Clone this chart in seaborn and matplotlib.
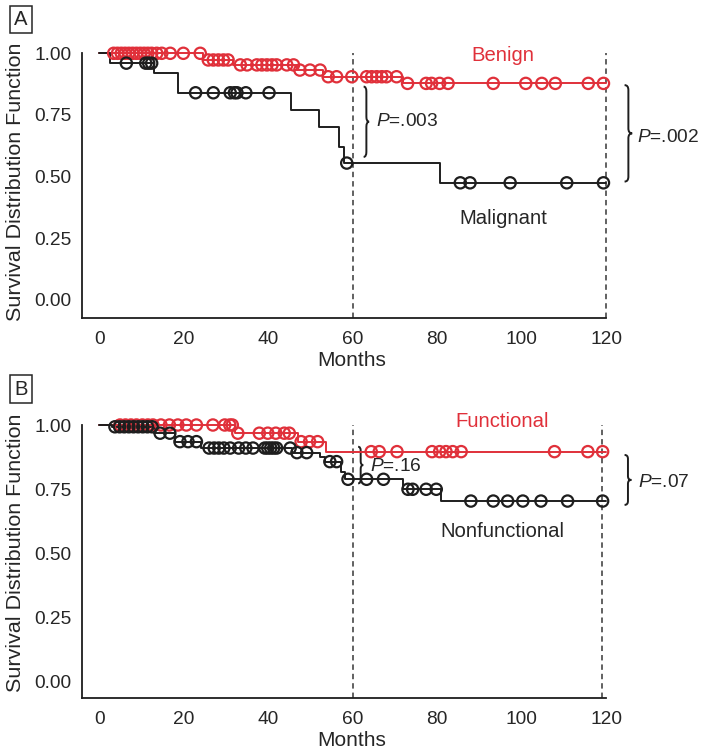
import numpy as np
import pandas as pd
import matplotlib
matplotlib.use("Agg")
import matplotlib.pyplot as plt
import seaborn as sns
from matplotlib.path import Path
from matplotlib.patches import PathPatch
from matplotlib import font_manager as fm

sns.set_theme(style="white")
_names = {f.name for f in fm.fontManager.ttflist}
NARROW = "Liberation Sans Narrow" in _names
FAM = "Liberation Sans Narrow" if NARROW else "Liberation Sans"
SC = 1.0 if NARROW else 0.86  # shrink sizes if only regular width is available
plt.rcParams["font.family"] = [FAM, "DejaVu Sans"]
plt.rcParams["mathtext.fontset"] = "custom"
plt.rcParams["mathtext.rm"] = FAM
plt.rcParams["mathtext.it"] = FAM + ":italic"

# ---------------- data ----------------
month_ticks = [0, 20, 40, 60, 80, 100, 120]
surv_ticks = [0.00, 0.25, 0.50, 0.75, 1.00]
surv_labels = ["0.00", "0.25", "0.50", "0.75", "1.00"]

# Panel A - Malignant (event times / survival after step / censored times)
mal_t = [0, 2.5, 13, 18.7, 45.3, 52, 56.7, 58, 80.8]
mal_s = [1.0, 0.96, 0.92, 0.84, 0.77, 0.70, 0.62, 0.555, 0.475]
mal_c = [6.4, 11.0, 11.7, 12.4, 22.8, 27, 31, 32, 32.6, 34.7, 40.2, 58.6,
         85.5, 87.8, 97.3, 110.7, 119.4]

# Panel A - Benign
ben_t = [0, 24.5, 31.7, 46.8, 53, 71.9]
ben_s = [1.0, 0.973, 0.953, 0.932, 0.905, 0.878]
ben_c = [3.4, 4.3, 5.2, 6.1, 7.0, 7.9, 8.8, 9.7, 10.6, 11.5, 12.4, 13.6,
         14.8, 16.8, 19.9, 23.9,
         25.8, 27.0, 28.2, 29.4, 30.5,
         33.4, 35.0, 37.3, 38.5, 39.7, 40.9, 42.0, 44.4, 46.0,
         47.5, 49.9, 52.3,
         54.2, 56.2, 59.8, 63.3, 64.5, 65.7, 66.9, 68.0, 70.4,
         73.0, 77.4, 78.7, 80.6, 82.6, 93.3, 101.0, 104.8, 108.0, 115.8, 119.4]

# Panel B - Functional
fun_t = [0, 32.2, 47, 53.8]
fun_s = [1.0, 0.968, 0.935, 0.896]
fun_c = [4.9, 6.2, 7.5, 8.8, 10.2, 11.5, 12.7, 14.6, 16.6, 18.6, 20.6, 23.0,
         26.9, 29.7, 30.9, 31.5,
         32.8, 37.9, 39.9, 41.8, 43.8, 45.0,
         47.8, 49.8, 51.7,
         64.4, 66.3, 70.5, 78.8, 80.6, 82.1, 83.7, 85.7, 107.8, 115.7, 119.2]

# Panel B - Nonfunctional
non_t = [0, 2.9, 13, 17.9, 24.2, 45.6, 52.2, 53.4, 57.3, 58.2, 71.9, 80.9]
non_s = [1.0, 0.993, 0.968, 0.935, 0.91, 0.892, 0.876, 0.857, 0.818, 0.788,
         0.749, 0.703]
non_c = [3.7, 4.8, 5.9, 7.0, 8.1, 9.2, 10.3, 11.4, 12.5,
         14.4, 16.7, 19.1, 21.0, 23.0,
         26.0, 27.2, 28.3, 29.5, 31.0, 33.0, 34.7, 36.4, 39.2, 39.9, 40.6,
         41.3, 42.0, 45.2,
         46.8, 49.1, 54.6, 56.2, 58.9, 63.3, 67.3,
         73.1, 74.2, 77.4, 79.8,
         88.0, 93.3, 96.7, 100.3, 104.6, 110.9, 119.2]

RED = "#e0303a"
BLK = "#1e1e1e"
TXT = "#262626"
W, H = 701, 750

fig = plt.figure(figsize=(W / 100, H / 100), dpi=100)


def px_axes(left, right, top, bottom):
    return fig.add_axes([left / W, 1 - bottom / H, (right - left) / W, (bottom - top) / H])


def km(ax, t, s, c, color, end=120):
    df = pd.DataFrame({"Months": list(t) + [end], "Survival": list(s) + [s[-1]]})
    sns.lineplot(data=df, x="Months", y="Survival", ax=ax, color=color, lw=1.4,
                 drawstyle="steps-post", estimator=None, sort=False, clip_on=False,
                 zorder=2)
    idx = np.searchsorted(np.array(t), np.array(c), side="right") - 1
    cy = np.array(s)[idx]
    sns.scatterplot(x=c, y=cy, ax=ax, marker="o", s=66, facecolor="none",
                    edgecolor=color, linewidth=1.6, clip_on=False, zorder=3)


def brace(ax, x, y0, y1, w, d):
    ym = (y0 + y1) / 2
    xm = x + w / 2
    verts = [(x, y0), (xm, y0), (xm, y0 - d), (xm, ym + d), (xm, ym), (x + w, ym),
             (xm, ym), (xm, ym - d), (xm, y1 + d), (xm, y1), (x, y1)]
    codes = [Path.MOVETO, Path.CURVE3, Path.CURVE3, Path.LINETO, Path.CURVE3, Path.CURVE3,
             Path.CURVE3, Path.CURVE3, Path.LINETO, Path.CURVE3, Path.CURVE3]
    ax.add_patch(PathPatch(Path(verts, codes), fill=False, lw=1.4, edgecolor=BLK,
                           clip_on=False))


def style(ax, ybot):
    ax.set_xlim(-4.1, 120)
    ax.set_ylim(ybot, 1.0)
    ax.set_xticks(month_ticks)
    ax.set_yticks(surv_ticks)
    ax.set_yticklabels(surv_labels)
    for sp in ["top", "right"]:
        ax.spines[sp].set_visible(False)
    for sp in ["left", "bottom"]:
        ax.spines[sp].set_color(BLK)
        ax.spines[sp].set_linewidth(1.3)
    ax.tick_params(axis="both", direction="out", length=4.5, width=1.3, colors=BLK,
                   labelsize=16 * SC, labelcolor=TXT)
    ax.tick_params(axis="y", pad=3)
    ax.tick_params(axis="x", pad=5)
    ax.set_xlabel("")
    ax.set_ylabel("")
    ax.set_facecolor("none")


# ---------------- Panel A ----------------
axA = px_axes(82, 606, 53.3, 318)
for xv in (60, 120):
    axA.plot([xv, xv], [-0.073, 1.0], ls=(0, (3, 2.2)), color="#555555", lw=1.3,
             clip_on=False, zorder=1)
km(axA, ben_t, ben_s, ben_c, RED)
km(axA, mal_t, mal_s, mal_c, BLK)
style(axA, -0.073)
brace(axA, 62.6, 0.865, 0.58, 1.3, 0.02)
axA.text(65.5, 0.722, r"$P$=.003", fontsize=16 * SC, color=TXT, va="center", ha="left")
brace(axA, 124.4, 0.871, 0.48, 1.8, 0.02)
axA.text(127.4, 0.66, r"$P$=.002", fontsize=16 * SC, color=TXT, va="center", ha="left",
         clip_on=False)
axA.text(95.6, 0.993, "Benign", fontsize=17 * SC, color=RED, ha="center", va="center")
axA.text(95.6, 0.332, "Malignant", fontsize=17 * SC, color=TXT, ha="center", va="center")

# ---------------- Panel B ----------------
axB = px_axes(82, 606, 425, 698)
for xv in (60, 119):
    axB.plot([xv, xv], [-0.066, 1.0], ls=(0, (3, 2.2)), color="#555555", lw=1.3,
             clip_on=False, zorder=1)
km(axB, fun_t, fun_s, fun_c, RED)
km(axB, non_t, non_s, non_c, BLK)
style(axB, -0.066)
brace(axB, 61.3, 0.915, 0.772, 1.2, 0.015)
axB.text(64.0, 0.837, r"$P$=.16", fontsize=16 * SC, color=TXT, va="center", ha="left")
brace(axB, 124.4, 0.883, 0.688, 1.6, 0.015)
axB.text(127.6, 0.777, r"$P$=.07", fontsize=16 * SC, color=TXT, va="center", ha="left",
         clip_on=False)
axB.text(95.4, 1.013, "Functional", fontsize=17 * SC, color=RED, ha="center", va="center")
axB.text(95.4, 0.583, "Nonfunctional", fontsize=17 * SC, color=TXT, ha="center",
         va="center")

# ---------------- labels ----------------
for yc, ylc, mc, lab in ((19.5, 182, 360, "A"), (389, 553, 740, "B")):
    fig.text(21 / W, 1 - yc / H, lab, fontsize=17 * SC, color=TXT, ha="center",
             va="center",
             bbox=dict(boxstyle="square,pad=0.2", fc="white", ec=TXT, lw=1.1))
    fig.text(16 / W, 1 - ylc / H, "Survival Distribution Function", rotation=90,
             fontsize=18 * SC, color=TXT, ha="center", va="center")
    fig.text(352 / W, 1 - mc / H, "Months", fontsize=17.5 * SC, color=TXT, ha="center",
             va="center")

fig.savefig("out.png", dpi=100, facecolor="white")
